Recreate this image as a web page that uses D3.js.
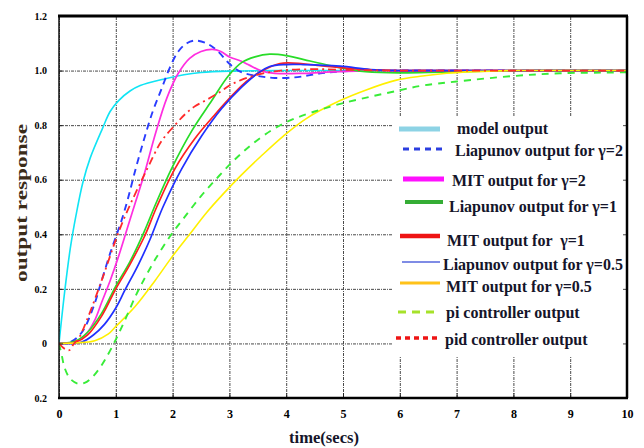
<!DOCTYPE html>
<html>
<head>
<meta charset="utf-8">
<script src="https://cdn.jsdelivr.net/npm/d3@7"></script>
<style>
  body { margin: 0; background: #fff; }
  text { font-family: "Liberation Serif", "Times New Roman", serif; font-weight: bold; }
</style>
</head>
<body>
<div id="chart"></div>
<script>
// time ticks and output ticks
var xTicks = [0, 1, 2, 3, 4, 5, 6, 7, 8, 9, 10];
var yTicks = [-0.2, 0, 0.2, 0.4, 0.6, 0.8, 1.0, 1.2];
var yTickLabels = ["0.2", "0", "0.2", "0.4", "0.6", "0.8", "1.0", "1.2"];

var seriesNames = [
  "model output",
  "Liapunov output for \u03b3=2",
  "MIT output for \u03b3=2",
  "Liapunov output for \u03b3=1",
  "MIT output for  \u03b3=1",
  "Liapunov output for \u03b3=0.5",
  "MIT output for \u03b3=0.5",
  "pi controller output",
  "pid controller output"
];

// [time, output]
var modelOutput = [[0,0],[0.1,0.19],[0.2,0.35],[0.3,0.47],[0.42,0.59],[0.55,0.68],[0.77,0.79],[0.9,0.85],[1.05,0.89],[1.25,0.925],[1.43,0.945],[1.87,0.97],[2.2,0.985],[2.5,0.993],[3,0.998],[4,1],[5,1],[6,1],[7,1],[8,1],[9,1],[10,1]];
var liapunov2 = [[0,0],[0.2,0.005],[0.4,0.04],[0.6,0.13],[0.75,0.23],[0.9,0.33],[1.0,0.39],[1.1,0.45],[1.2,0.52],[1.35,0.64],[1.5,0.75],[1.65,0.85],[1.8,0.93],[1.95,1.01],[2.1,1.07],[2.25,1.1],[2.4,1.11],[2.6,1.1],[2.8,1.07],[3.0,1.025],[3.2,0.995],[3.5,0.98],[3.8,0.973],[4.2,0.976],[4.6,0.99],[5.0,0.997],[5.5,1],[6,1],[7,1],[8,1],[9,1],[10,1]];
var mit2 = [[0,0],[0.3,0.005],[0.5,0.04],[0.63,0.085],[0.75,0.15],[0.9,0.23],[1.05,0.32],[1.2,0.42],[1.35,0.52],[1.5,0.62],[1.7,0.77],[1.9,0.9],[2.1,0.99],[2.3,1.045],[2.5,1.07],[2.7,1.078],[2.85,1.07],[3.0,1.05],[3.2,1.035],[3.35,1.02],[3.55,1.0],[3.8,0.99],[4.3,0.99],[4.8,0.995],[5.5,1],[6,1],[7,1],[8,1],[9,1],[10,1]];
var liapunov1 = [[0,0],[0.3,0.01],[0.5,0.04],[0.75,0.11],[1.0,0.21],[1.25,0.3],[1.5,0.41],[1.7,0.51],[1.98,0.64],[2.34,0.78],[2.69,0.89],[2.98,0.98],[3.22,1.03],[3.45,1.05],[3.71,1.06],[4.0,1.055],[4.42,1.035],[4.82,1.016],[5.3,0.998],[5.8,0.992],[6.5,0.993],[7.5,0.998],[8.5,1],[9,1],[10,1]];
var mit1 = [[0,0],[0.3,0.005],[0.5,0.03],[0.75,0.1],[1.0,0.2],[1.25,0.29],[1.5,0.39],[1.72,0.5],[2.04,0.64],[2.39,0.75],[2.75,0.84],[3.1,0.92],[3.3,0.96],[3.5,0.99],[3.89,1.026],[4.3,1.025],[4.6,1.018],[5.0,1.01],[5.5,1.003],[6,1],[7,1],[8,1],[9,1],[10,1]];
var liapunov05 = [[0,0],[0.4,0.005],[0.6,0.03],[0.8,0.07],[1.0,0.13],[1.16,0.195],[1.4,0.29],[1.6,0.38],[1.83,0.5],[2.16,0.64],[2.51,0.76],[2.86,0.86],[3.22,0.94],[3.5,0.99],[3.71,1.015],[4.0,1.022],[4.3,1.022],[4.95,1.016],[5.48,1.004],[6,1],[7,1],[8,1],[9,1],[10,1]];
var mit05 = [[0,0],[0.3,0.002],[0.63,0.01],[0.87,0.035],[0.99,0.06],[1.34,0.135],[1.69,0.23],[2.0,0.32],[2.3,0.4],[2.6,0.48],[2.9,0.55],[3.2,0.615],[3.55,0.685],[3.95,0.76],[4.36,0.825],[4.95,0.89],[5.42,0.93],[5.94,0.965],[6.4,0.98],[6.83,0.99],[7.3,0.996],[8,1],[9,1],[10,1]];
var piOutput = [[0,0],[0.05,-0.045],[0.1,-0.09],[0.2,-0.13],[0.34,-0.148],[0.45,-0.145],[0.58,-0.125],[0.7,-0.095],[0.81,-0.06],[0.99,0.01],[1.16,0.085],[1.34,0.17],[1.46,0.22],[1.7,0.31],[1.98,0.4],[2.2,0.46],[2.5,0.54],[2.8,0.61],[3.1,0.675],[3.4,0.73],[3.77,0.785],[4.1,0.82],[4.5,0.85],[4.95,0.878],[5.5,0.905],[6.0,0.928],[6.4,0.945],[7.0,0.96],[8.0,0.98],[8.82,0.99],[9.75,0.993],[10,0.994]];
var pidOutput = [[0,0],[0.1,-0.02],[0.18,-0.025],[0.25,-0.005],[0.35,0.02],[0.5,0.09],[0.75,0.23],[1.0,0.38],[1.15,0.46],[1.3,0.53],[1.46,0.6],[1.6,0.66],[1.8,0.74],[2.04,0.8],[2.22,0.84],[2.4,0.87],[2.62,0.895],[2.86,0.925],[3.0,0.945],[3.2,0.965],[3.5,0.985],[3.9,1.0],[4.5,1.005],[5,1.003],[6,1],[7,1],[8,1],[9,1],[10,1]];

var seriesData = [modelOutput, liapunov2, mit2, liapunov1, mit1, liapunov05, mit05, piOutput, pidOutput];

// styles
var lineColor = ["#10e4f4", "#2a3cff", "#ff2ee0", "#28dc28", "#ff2020", "#2030ff", "#fff000", "#38ec38", "#ff2a2a"];
var lineDash = [null, "7,5", null, null, null, null, null, "7,6", "8,4,2,4"];
var lineWidth = [1.6, 1.9, 1.7, 1.7, 1.7, 1.7, 1.6, 1.9, 1.8];

var swatchColor = ["#8dd3e5", "#2b3ee0", "#ff10ff", "#35ad35", "#ee1414", "#5566dd", "#ffc21a", "#a6e22a", "#ee1414"];
var swatchDash = [null, "6,5", null, null, null, null, null, "8,6", "5,4"];
var swatchWidth = [5, 3, 5, 4, 4.5, 1.5, 3, 3, 3.5];
// legend row layout: line x1, x2, line y, text x, text baseline
var legendRows = [
  [399, 440, 129, 457, 134],
  [403, 443, 149, 455, 156],
  [403, 444, 179, 452, 186],
  [405, 443, 202, 449, 212],
  [400, 440, 236, 447, 246],
  [402, 440, 262, 443, 270],
  [400, 440, 283, 446, 292],
  [398, 435, 312, 446, 318],
  [396, 440, 338, 445, 345]
];

var width = 644, height = 448;
var plotLeft = 59, plotRight = 627, plotTop = 16, plotBottom = 398;

var svg = d3.select("#chart").append("svg")
  .attr("width", width)
  .attr("height", height);

var x = d3.scaleLinear().domain([0, 10]).range([plotLeft, plotRight]);
var y = d3.scaleLinear().domain([-0.2, 1.2]).range([plotBottom, plotTop]);

// grid
var gridX = svg.append("g")
  .attr("transform", "translate(0," + plotBottom + ")")
  .call(d3.axisBottom(x).tickValues(xTicks).tickSize(-(plotBottom - plotTop)).tickFormat(""));
var gridY = svg.append("g")
  .attr("transform", "translate(" + plotLeft + ",0)")
  .call(d3.axisLeft(y).tickValues(yTicks).tickSize(-(plotRight - plotLeft)).tickFormat(""));
[gridX, gridY].forEach(function(g) {
  g.select(".domain").remove();
  g.selectAll(".tick line")
    .attr("stroke", "#4a4a4a")
    .attr("stroke-width", 1)
    .attr("stroke-dasharray", "3,1,1,1");
});

// curves
var line = d3.line()
  .x(function(d) { return x(d[0]); })
  .y(function(d) { return y(d[1]); })
  .curve(d3.curveCatmullRom.alpha(0.5));

svg.append("clipPath").attr("id", "plotclip")
  .append("rect")
  .attr("x", plotLeft).attr("y", plotTop)
  .attr("width", plotRight - plotLeft).attr("height", plotBottom - plotTop);

var curves = svg.append("g").attr("clip-path", "url(#plotclip)");
seriesData.forEach(function(s, i) {
  curves.append("path")
    .datum(s)
    .attr("d", line)
    .attr("fill", "none")
    .attr("stroke", lineColor[i])
    .attr("stroke-width", lineWidth[i])
    .attr("stroke-dasharray", lineDash[i]);
});

// legend
var legend = svg.append("g");
legend.append("rect")
  .attr("x", 393).attr("y", 116)
  .attr("width", 230).attr("height", 240)
  .attr("fill", "#fff");

seriesNames.forEach(function(name, i) {
  var r = legendRows[i];
  legend.append("line")
    .attr("x1", r[0]).attr("x2", r[1])
    .attr("y1", r[2]).attr("y2", r[2])
    .attr("stroke", swatchColor[i])
    .attr("stroke-width", swatchWidth[i])
    .attr("stroke-dasharray", swatchDash[i]);
  legend.append("text")
    .attr("x", r[3]).attr("y", r[4])
    .attr("fill", "#15152a")
    .style("font-size", "16px")
    .style("white-space", "pre")
    .text(name);
});

// tick labels
var xAxis = svg.append("g")
  .attr("transform", "translate(0," + plotBottom + ")")
  .call(d3.axisBottom(x).tickValues(xTicks).tickSize(5).tickPadding(4).tickFormat(d3.format("d")));
xAxis.select(".domain").remove();
xAxis.selectAll(".tick line").attr("y2", -5).attr("stroke", "#222");
xAxis.selectAll("text").style("font-size", "12px").attr("fill", "#000").attr("dy", "0.95em");

var yAxis = svg.append("g")
  .attr("transform", "translate(" + plotLeft + ",0)")
  .call(d3.axisLeft(y).tickValues(yTicks).tickSize(5).tickPadding(7)
    .tickFormat(function(d, i) { return yTickLabels[i]; }));
yAxis.select(".domain").remove();
yAxis.selectAll(".tick line").attr("x2", 4).attr("stroke", "#222");
yAxis.selectAll("text").style("font-size", "10px").attr("fill", "#000");

// frame
svg.append("line").attr("x1", plotLeft).attr("x2", plotLeft).attr("y1", plotTop).attr("y2", plotBottom)
  .attr("stroke", "#111").attr("stroke-width", 1.5);
svg.append("line").attr("x1", plotLeft - 1).attr("x2", plotRight + 1).attr("y1", plotTop).attr("y2", plotTop)
  .attr("stroke", "#000").attr("stroke-width", 3);
svg.append("line").attr("x1", plotLeft - 1).attr("x2", plotRight + 1).attr("y1", plotBottom).attr("y2", plotBottom)
  .attr("stroke", "#000").attr("stroke-width", 2.5);
svg.append("line").attr("x1", plotRight).attr("x2", plotRight).attr("y1", plotTop).attr("y2", plotBottom)
  .attr("stroke", "#000").attr("stroke-width", 2.5);

// axis titles
svg.append("text")
  .attr("x", 324).attr("y", 443)
  .attr("text-anchor", "middle")
  .attr("fill", "#15152a")
  .style("font-size", "17px")
  .attr("textLength", 70)
  .attr("lengthAdjust", "spacingAndGlyphs")
  .text("time(secs)");

svg.append("text")
  .attr("transform", "translate(27,203) rotate(-90)")
  .attr("text-anchor", "middle")
  .attr("fill", "#3b2c1a")
  .style("font-size", "17px")
  .attr("textLength", 158)
  .attr("lengthAdjust", "spacingAndGlyphs")
  .text("output response");
</script>
</body>
</html>
